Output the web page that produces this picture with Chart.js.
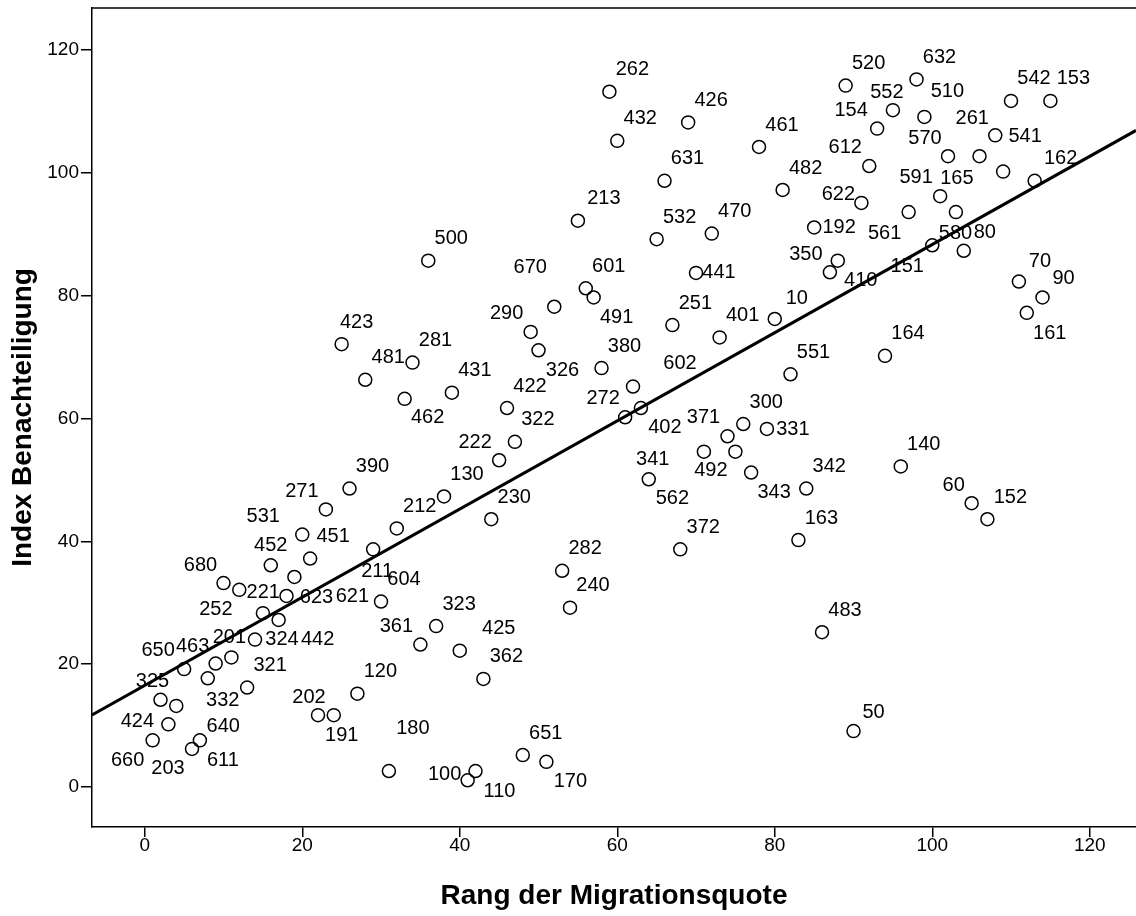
<!DOCTYPE html>
<html>
<head>
  <title>Migration und Benachteiligung</title>
  <script src="https://cdn.jsdelivr.net/npm/chart.js"></script>
  <style>
    body { margin: 0; background: #fff; }
    #wrap { width: 1136px; height: 916px; }
  </style>
</head>
<body>
  <div id="wrap"><canvas id="scatter" width="1136" height="916"></canvas></div>

  <script>
    // Rang der Migrationsquote (x), Index Benachteiligung (y), Gebietsnummer (label)
    const rang = [1,2,3,4,5,6,7,8,9,10,11,12,13,14,15,16,17,18,19,20,
      21,22,23,24,25,26,27,28,29,30,31,32,33,34,35,36,37,38,39,40,
      41,42,43,44,45,46,47,48,49,50,51,52,53,54,55,56,57,58,59,60,
      61,62,63,64,65,66,67,68,69,70,71,72,73,74,75,76,77,78,79,80,
      81,82,83,84,85,86,87,88,89,90,91,92,93,94,95,96,97,98,99,100,
      101,102,103,104,105,106,107,108,109,110,111,112,113,114,115];
    const index = [7.6,14.2,10.2,13.2,19.2,6.2,7.6,17.7,20.1,33.2,
      21.1,32.1,16.2,24.0,28.3,36.1,27.2,31.1,34.2,41.1,
      37.2,11.7,45.2,11.7,72.1,48.6,15.2,66.3,38.7,30.2,
      2.6,42.1,63.2,69.1,23.2,85.7,26.2,47.3,64.2,22.2,
      1.1,2.6,17.6,43.6,53.2,61.7,56.2,5.2,74.1,71.1,
      4.1,78.2,35.2,29.2,92.2,81.2,79.7,68.2,113.2,105.2,
      60.2,65.2,61.7,50.1,89.2,98.7,75.2,38.7,108.2,83.7,
      54.6,90.1,73.2,57.1,54.6,59.1,51.2,104.2,58.3,76.2,
      97.2,67.2,40.2,48.6,91.1,25.2,83.8,85.7,114.2,9.1,
      95.1,101.1,107.2,70.2,110.2,52.2,93.6,115.2,109.1,88.2,
      96.2,102.7,93.6,87.3,46.2,102.7,43.6,106.1,100.2,111.7,
      82.3,77.2,98.7,79.7,111.7];
    const gebiet = ['660','325','424','640','650','203','611','332','463','680',
      '201','221','321','324','252','452','442','623','621','531',
      '451','202','271','191','423','390','120','481','211','604',
      '180','212','462','281','361','500','323','130','431','425',
      '100','110','362','230','222','422','322','651','290','326',
      '170','670','282','240','213','601','491','380','262','432',
      '272','602','402','341','532','631','251','372','426','441',
      '492','470','401','371','562','300','343','461','331','10',
      '482','551','163','342','192','483','350','410','520','50',
      '622','612','154','164','552','140','561','632','510','151',
      '591','570','165','80','60','580','152','261','541','542',
      '70','161','162','90','153'];
    const xTicks = [0, 20, 40, 60, 80, 100, 120];
    const yTicks = [0, 20, 40, 60, 80, 100, 120];

    // where each label sits relative to its circle (px); default is upper right
    const defaultNudge = [23, -22];
    const labelNudge = {
      '660': [-25, 20], '325': [-8, -18], '424': [-31, -3], '640': [47, 21], '650': [-26, -19],
      '203': [-24, 20], '611': [23, 20], '332': [15, 22], '463': [-23, -17], '680': [-23, -18],
      '201': [-2, -20], '221': [24, 3], '324': [27, 0], '252': [-47, -4], '452': [0, -20],
      '442': [39, 20], '623': [30, 1], '621': [58, 20], '531': [-39, -18], '202': [-9, -18],
      '271': [-24, -18], '191': [8, 20], '423': [15, -22], '211': [4, 22], '180': [24, -43],
      '462': [23, 19], '361': [-24, -18], '425': [39, -22], '100': [-23, -6], '110': [24, 20],
      '222': [-24, -18], '290': [-24, -18], '326': [24, 20], '170': [24, 20], '670': [-24, -39],
      '213': [26, -22], '491': [23, 20], '272': [-22, -19], '602': [47, -23], '402': [24, 19],
      '341': [4, -20], '441': [23, 0], '492': [7, 19], '371': [-24, -19], '562': [-63, 47],
      '343': [23, 20], '331': [26, 1], '10': [22, -20], '192': [25, 0], '350': [-24, -18],
      '410': [23, 20], '50': [20, -19], '622': [-23, -8], '612': [-24, -19], '154': [-26, -18],
      '552': [-6, -18], '561': [-24, 21], '510': [23, -25], '151': [-25, 21], '591': [-24, -19],
      '570': [-23, -18], '165': [1, -34], '80': [21, -18], '60': [-18, -18], '580': [-24, 77],
      '261': [-23, -17], '541': [22, -35], '162': [26, -22], '70': [21, -20], '161': [23, 21],
      '90': [21, -19]
    };

    const X_MIN = -6.7, X_MAX = 125.87;
    const Y_MIN = -6.51, Y_MAX = 126.83;

    // linear regression (least squares) over the points
    const n = rang.length;
    const mx = rang.reduce((a, b) => a + b, 0) / n;
    const my = index.reduce((a, b) => a + b, 0) / n;
    let sxy = 0, sxx = 0;
    for (let i = 0; i < n; i++) {
      sxy += (rang[i] - mx) * (index[i] - my);
      sxx += (rang[i] - mx) * (rang[i] - mx);
    }
    const slope = sxy / sxx;
    const icpt = my - slope * mx;
    const fitLine = [X_MIN, X_MAX].map(x => ({ x: x, y: icpt + slope * x }));

    const points = rang.map((x, i) => ({ x: x, y: index[i] }));

    const FONT = '"Liberation Sans", Arial, sans-serif';

    const pointLabels = {
      id: 'pointLabels',
      afterDatasetsDraw(chart) {
        const ctx = chart.ctx;
        const meta = chart.getDatasetMeta(0);
        ctx.save();
        ctx.font = '20px ' + FONT;
        ctx.fillStyle = '#000';
        ctx.textAlign = 'center';
        ctx.textBaseline = 'middle';
        meta.data.forEach((el, i) => {
          const lab = gebiet[i];
          const d = labelNudge[lab] || defaultNudge;
          ctx.fillText(lab, el.x + d[0], el.y + d[1]);
        });
        ctx.restore();
      }
    };

    const topFrame = {
      id: 'topFrame',
      afterDraw(chart) {
        const { ctx, chartArea } = chart;
        ctx.save();
        ctx.strokeStyle = '#000';
        ctx.lineWidth = 1.5;
        ctx.beginPath();
        ctx.moveTo(chartArea.left, chartArea.top);
        ctx.lineTo(chartArea.right, chartArea.top);
        ctx.stroke();
        ctx.restore();
      }
    };

    const ctx = document.getElementById('scatter').getContext('2d');
    new Chart(ctx, {
      type: 'scatter',
      data: {
        datasets: [
          {
            label: 'Gebiete',
            data: points,
            pointStyle: 'circle',
            pointRadius: 6.5,
            pointBorderWidth: 1.5,
            pointBorderColor: '#000',
            pointBackgroundColor: 'rgba(255,255,255,0)'
          },
          {
            type: 'line',
            label: 'Regression',
            data: fitLine,
            borderColor: '#000',
            borderWidth: 3,
            pointRadius: 0,
            fill: false
          }
        ]
      },
      options: {
        responsive: false,
        animation: false,
        devicePixelRatio: 1,
        events: [],
        layout: { autoPadding: false, padding: { top: 8, right: 0, left: 0, bottom: 0 } },
        plugins: {
          legend: { display: false },
          tooltip: { enabled: false }
        },
        scales: {
          x: {
            type: 'linear',
            min: X_MIN,
            max: X_MAX,
            afterFit(scale) {
              scale.height = 89;
              scale.paddingLeft = 0;
              scale.paddingRight = 0;
            },
            afterBuildTicks(scale) { scale.ticks = xTicks.map(v => ({ value: v })); },
            border: { display: true, color: '#000', width: 1.5 },
            grid: { drawOnChartArea: false, drawTicks: true, tickLength: 10, color: '#000', lineWidth: 1.5 },
            ticks: { color: '#000', padding: -3, maxRotation: 0, font: { size: 19, family: FONT } },
            title: {
              display: true,
              text: 'Rang der Migrationsquote',
              color: '#000',
              font: { size: 28, weight: 'bold', family: FONT },
              padding: { top: 0, bottom: 3 }
            }
          },
          y: {
            type: 'linear',
            min: Y_MIN,
            max: Y_MAX,
            afterFit(scale) {
              scale.width = 92;
              scale.paddingTop = 0;
              scale.paddingBottom = 0;
            },
            afterBuildTicks(scale) { scale.ticks = yTicks.map(v => ({ value: v })); },
            border: { display: true, color: '#000', width: 1.5 },
            grid: { drawOnChartArea: false, drawTicks: true, tickLength: 11, color: '#000', lineWidth: 1.5 },
            ticks: { color: '#000', padding: 2, font: { size: 19, family: FONT } },
            title: {
              display: true,
              text: 'Index Benachteiligung',
              color: '#000',
              font: { size: 28, weight: 'bold', family: FONT },
              padding: { top: 6, bottom: 0 }
            }
          }
        }
      },
      plugins: [pointLabels, topFrame]
    });
  </script>
</body>
</html>
